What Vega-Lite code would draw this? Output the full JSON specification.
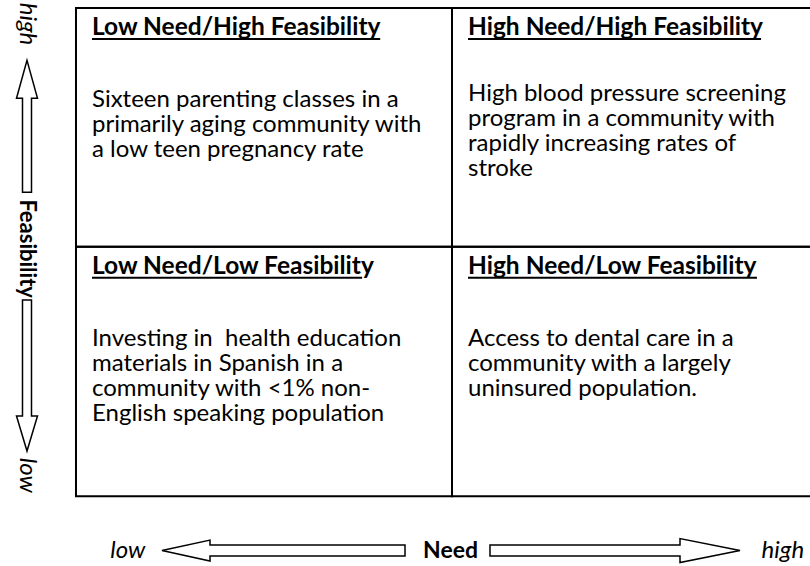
{
  "$schema": "https://vega.github.io/schema/vega-lite/v6.json",
  "width": 810,
  "height": 566,
  "autosize": {"type": "fit", "contains": "padding"},
  "padding": 0,
  "background": "white",
  "config": {"view": {"stroke": null}},
  "datasets": {
    "cells": [
      {"need": "Low", "feasibility": "High", "need_lo": 0, "need_hi": 1, "feas_lo": 1, "feas_hi": 1.956, "title_end": 0.809, "title": "Low Need/High Feasibility", "body": ["Sixteen parenting classes in a", "primarily aging community with", "a low teen pregnancy rate"]},
      {"need": "High", "feasibility": "High", "need_lo": 1, "need_hi": 2, "feas_lo": 1, "feas_hi": 1.956, "title_end": 1.822, "title": "High Need/High Feasibility", "body": ["High blood pressure screening", "program in a community with", "rapidly increasing rates of", "stroke"]},
      {"need": "Low", "feasibility": "Low", "need_lo": 0, "need_hi": 1, "feas_lo": 0, "feas_hi": 1, "title_end": 0.761, "title": "Low Need/Low Feasibility", "body": ["Investing in\u00a0 health education", "materials in Spanish in a", "community with <1% non-", "English speaking population"]},
      {"need": "High", "feasibility": "Low", "need_lo": 1, "need_hi": 2, "feas_lo": 0, "feas_hi": 1, "title_end": 1.811, "title": "High Need/Low Feasibility", "body": ["Access to dental care in a", "community with a largely", "uninsured population."]}
    ],
    "labels": [
      {"axis": "Need", "kind": "end", "text": "low", "need": 0.138, "feasibility": -0.2171},
      {"axis": "Need", "kind": "name", "text": "Need", "need": 0.996, "feasibility": -0.2171},
      {"axis": "Need", "kind": "end", "text": "high", "need": 1.88, "feasibility": -0.2171},
      {"axis": "Feasibility", "kind": "end", "text": "high", "need": -0.13, "feasibility": 1.892},
      {"axis": "Feasibility", "kind": "name", "text": "Feasibility", "need": -0.13, "feasibility": 0.992},
      {"axis": "Feasibility", "kind": "end", "text": "low", "need": -0.13, "feasibility": 0.084}
    ],
    "arrows": [
      {"axis": "Need", "piece": "toward low", "need": 0.5519, "feasibility": -0.2171},
      {"axis": "Need", "piece": "toward high", "need": 1.4335, "feasibility": -0.2171},
      {"axis": "Feasibility", "piece": "toward high", "need": -0.1303, "feasibility": 1.482},
      {"axis": "Feasibility", "piece": "toward low", "need": -0.1303, "feasibility": 0.484}
    ]
  },
  "layer": [
    {
      "data": {"name": "cells"},
      "mark": {"type": "rect", "filled": false, "stroke": "black", "strokeWidth": 2, "clip": true},
      "encoding": {
        "x": {"field": "need_lo", "type": "quantitative", "scale": {"domain": [-0.2021, 1.9521], "nice": false, "zero": false}, "axis": null},
        "x2": {"field": "need_hi"},
        "y": {"field": "feas_lo", "type": "quantitative", "scale": {"domain": [-0.2669, 1.988], "nice": false, "zero": false}, "axis": null},
        "y2": {"field": "feas_hi"}
      }
    },
    {
      "data": {"name": "cells"},
      "mark": {"type": "text", "align": "left", "baseline": "alphabetic", "font": "Lato", "fontWeight": "bold", "fontSize": 24.5, "dx": 16, "dy": 27, "color": "black"},
      "encoding": {
        "x": {"field": "need_lo", "type": "quantitative", "axis": null},
        "y": {"field": "feas_hi", "type": "quantitative", "axis": null},
        "text": {"field": "title"}
      }
    },
    {
      "data": {"name": "cells"},
      "mark": {"type": "rule", "stroke": "black", "strokeWidth": 2, "xOffset": 16, "yOffset": 31},
      "encoding": {
        "x": {"field": "need_lo", "type": "quantitative", "axis": null},
        "x2": {"field": "title_end"},
        "y": {"field": "feas_hi", "type": "quantitative", "axis": null}
      }
    },
    {
      "data": {"name": "cells"},
      "transform": [{"filter": "!(datum.need == 'High' && datum.feasibility == 'High')"}],
      "mark": {"type": "text", "align": "left", "baseline": "alphabetic", "font": "Lato", "fontSize": 24, "lineHeight": 25, "dx": 16, "dy": 99, "color": "black"},
      "encoding": {
        "x": {"field": "need_lo", "type": "quantitative", "axis": null},
        "y": {"field": "feas_hi", "type": "quantitative", "axis": null},
        "text": {"field": "body"}
      }
    },
    {
      "data": {"name": "cells"},
      "transform": [{"filter": "datum.need == 'High' && datum.feasibility == 'High'"}],
      "mark": {"type": "text", "align": "left", "baseline": "alphabetic", "font": "Lato", "fontSize": 24, "lineHeight": 25, "dx": 16, "dy": 93, "color": "black"},
      "encoding": {
        "x": {"field": "need_lo", "type": "quantitative", "axis": null},
        "y": {"field": "feas_hi", "type": "quantitative", "axis": null},
        "text": {"field": "body"}
      }
    },
    {
      "data": {"name": "arrows"},
      "mark": {"type": "point", "filled": true, "fill": "white", "stroke": "black", "strokeWidth": 1.5, "size": 4, "opacity": 1},
      "encoding": {
        "x": {"field": "need", "type": "quantitative", "axis": null},
        "y": {"field": "feasibility", "type": "quantitative", "axis": null},
        "shape": {
          "field": "key", "type": "nominal", "legend": null,
          "scale": {
            "domain": ["Need|toward low", "Need|toward high", "Feasibility|toward high", "Feasibility|toward low"],
            "range": [
              "M-121.5,0L-73.5,-10.5L-73.5,-5.5L121.5,-5.5L121.5,5.5L-73.5,5.5L-73.5,10.5Z",
              "M-125,-5.5L65,-5.5L65,-12L125,0L65,12L65,5.5L-125,5.5Z",
              "M0,-66L10.5,-28L4.5,-28L4.5,66L-4.5,66L-4.5,-28L-10.5,-28Z",
              "M-4.5,-75.5L4.5,-75.5L4.5,40.5L10.5,40.5L0,75.5L-10.5,40.5L-4.5,40.5Z"
            ]
          }
        }
      },
      "transform": [{"calculate": "datum.axis + '|' + datum.piece", "as": "key"}]
    },
    {
      "data": {"name": "labels"},
      "transform": [{"filter": "datum.axis == 'Need' && datum.kind == 'end'"}],
      "mark": {"type": "text", "align": "center", "baseline": "middle", "font": "Lato", "fontStyle": "italic", "fontSize": 24, "color": "black"},
      "encoding": {
        "x": {"field": "need", "type": "quantitative", "axis": null},
        "y": {"field": "feasibility", "type": "quantitative", "axis": null},
        "text": {"field": "text"}
      }
    },
    {
      "data": {"name": "labels"},
      "transform": [{"filter": "datum.axis == 'Need' && datum.kind == 'name'"}],
      "mark": {"type": "text", "align": "center", "baseline": "middle", "font": "Lato", "fontWeight": "bold", "fontSize": 23, "color": "black"},
      "encoding": {
        "x": {"field": "need", "type": "quantitative", "axis": null},
        "y": {"field": "feasibility", "type": "quantitative", "axis": null},
        "text": {"field": "text"}
      }
    },
    {
      "data": {"name": "labels"},
      "transform": [{"filter": "datum.axis == 'Feasibility' && datum.kind == 'end'"}],
      "mark": {"type": "text", "align": "center", "baseline": "middle", "angle": 90, "font": "Lato", "fontStyle": "italic", "fontSize": 24, "color": "black"},
      "encoding": {
        "x": {"field": "need", "type": "quantitative", "axis": null},
        "y": {"field": "feasibility", "type": "quantitative", "axis": null},
        "text": {"field": "text"}
      }
    },
    {
      "data": {"name": "labels"},
      "transform": [{"filter": "datum.axis == 'Feasibility' && datum.kind == 'name'"}],
      "mark": {"type": "text", "align": "center", "baseline": "middle", "angle": 90, "font": "Lato", "fontWeight": "bold", "fontSize": 22, "color": "black"},
      "encoding": {
        "x": {"field": "need", "type": "quantitative", "axis": null},
        "y": {"field": "feasibility", "type": "quantitative", "axis": null},
        "text": {"field": "text"}
      }
    }
  ]
}
